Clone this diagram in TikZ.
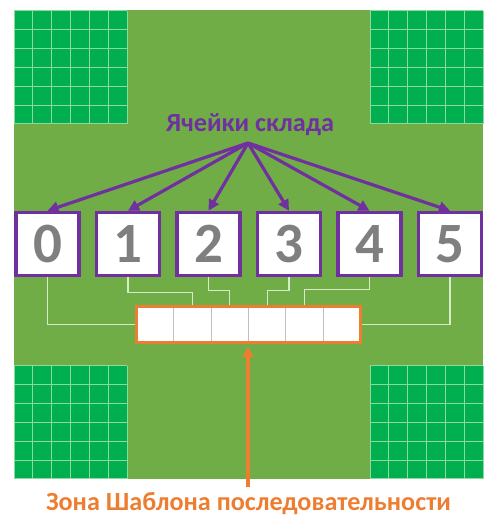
\documentclass[tikz,border=0pt]{standalone}
\usepackage{fontspec}
\setmainfont{Carlito}
\usepackage{xcolor}
\usetikzlibrary{arrows.meta,positioning,fit,calc}
\definecolor{fieldgreen}{HTML}{70AD47}
\definecolor{rackgreen}{HTML}{00B050}
\definecolor{rackline}{HTML}{8FD9A0}
\definecolor{cellpurple}{HTML}{7030A0}
\definecolor{zoneorange}{HTML}{ED7D31}
\definecolor{digitgray}{HTML}{7F7F7F}
\definecolor{wireline}{HTML}{D6EBC8}
\definecolor{slotline}{HTML}{BFBFBF}

\begin{document}
\begin{tikzpicture}[x=1pt,y=1pt,
  cell/.style={draw=cellpurple,line width=3.5pt,fill=white,minimum size=63pt,
               inner sep=0pt,text=digitgray,font=\fontsize{57}{57}\selectfont\bfseries},
  slot/.style={draw=slotline,line width=0.8pt,fill=white,minimum width=37.33pt,
               minimum height=36pt,inner sep=0pt,outer sep=0pt},
  zonebox/.style={draw=zoneorange,line width=3pt,inner sep=0pt},
  wire/.style={draw=wireline,line width=1.2pt},
  parr/.style={-{Triangle[length=11pt,width=11pt]},draw=cellpurple,line width=3.2pt},
  oarr/.style={-{Triangle[length=10pt,width=11pt]},draw=zoneorange,line width=3.2pt},
  lbl/.style={anchor=base,font=\fontsize{26.2}{26.2}\selectfont\bfseries}
]
\useasboundingbox (0,0) rectangle (485,518);
\fill[fieldgreen] (14,39) rectangle (483,508);
% racks in the four corners
\foreach \rx/\ry in {14/394,370/394,14/39,370/39}{
  \begin{scope}[shift={(\rx,\ry)}]
    \fill[rackgreen] (0,0) rectangle (113,113);
    \foreach \k in {0,...,6}{
      \draw[rackline,line width=1pt] ({\k*113/6},0) -- ({\k*113/6},113);
      \draw[rackline,line width=1pt] (0,{\k*113/6}) -- (113,{\k*113/6});
    }
  \end{scope}
}
% storage cells
\node[cell] (b0) at (47.5,274) {0};
\node[cell,right=14pt of b0] (b1) {1};
\node[cell,right=14pt of b1] (b2) {2};
\node[cell,right=14pt of b2] (b3) {3};
\node[cell,right=14pt of b3] (b4) {4};
\node[cell,right=14pt of b4] (b5) {5};
\node[lbl,text=cellpurple] (title) at (250,386) {Ячейки склада};
\coordinate (hub) at (248,375);
\foreach \i in {0,...,5}
  \draw[parr] (hub) -- (b\i.north);
% sequence template zone
\node[slot] (c1) at (155.17,193.5) {};
\node[slot,right=0pt of c1] (c2) {};
\node[slot,right=0pt of c2] (c3) {};
\node[slot,right=0pt of c3] (c4) {};
\node[slot,right=0pt of c4] (c5) {};
\node[slot,right=0pt of c5] (c6) {};
\node[zonebox,fit=(c1)(c6)] (zone) {};
\draw[wire] (b0.south) |- (zone.west);
\draw[wire] (b1.south) -- ++(0,-15) -| (c2.north |- zone.north);
\draw[wire] (b2.south) -- ++(0,-13) -| (c3.north |- zone.north);
\draw[wire] (b3.south) -- ++(0,-13) -| (c4.north |- zone.north);
\draw[wire] (b4.south) -- ++(0,-12) -| (c5.north |- zone.north);
\draw[wire] (b5.south) |- (zone.east);
\coordinate (src) at (248,31);
\draw[oarr,shorten >=3pt] (src) -- (src |- zone.south);
\node[lbl,text=zoneorange] (caption) at (248.5,7) {Зона Шаблона последовательности};
\end{tikzpicture}
\end{document}
